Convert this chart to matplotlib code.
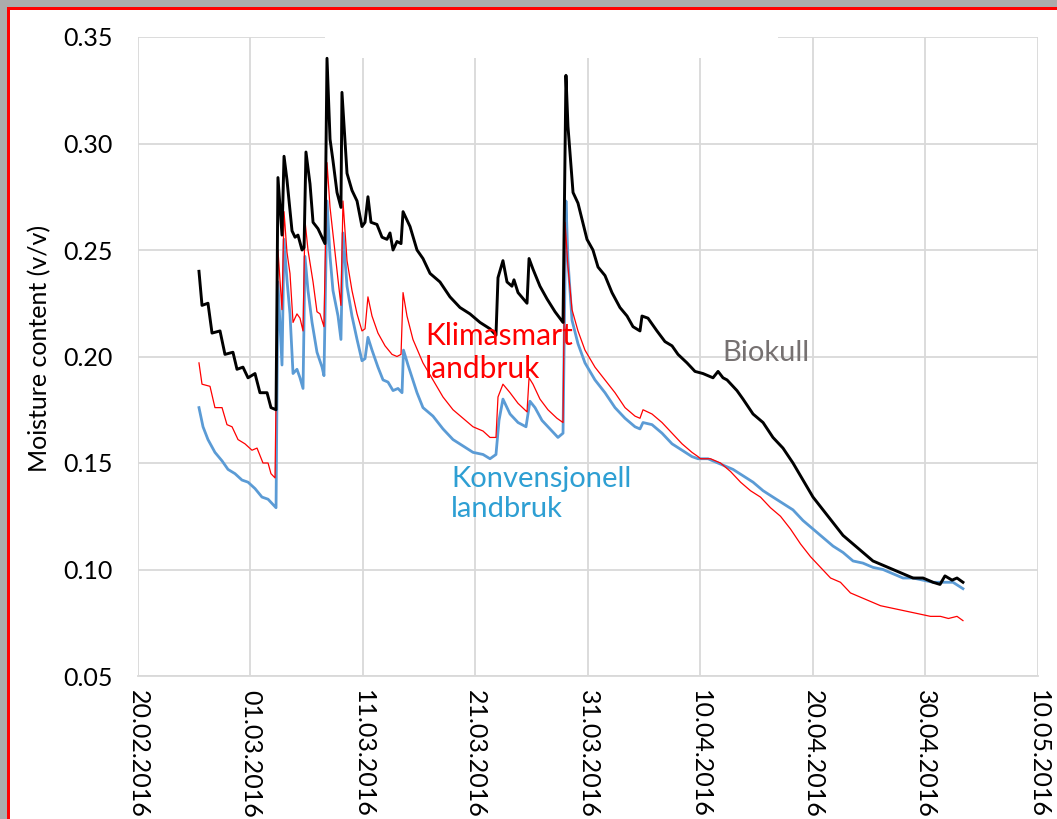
import matplotlib
matplotlib.use("Agg")
import matplotlib.pyplot as plt
import matplotlib.dates as mdates
from matplotlib.patches import Rectangle
import pandas as pd

# ---------------- data (days after 20.02.2016, moisture v/v) ----------------
start_date = "2016-02-20"

biokull_days = [5.42, 5.69, 6.22, 6.58, 7.29, 7.73, 8.44, 8.80, 9.33, 9.78, 10.40, 10.84, 11.47, 11.82, 12.27,
                12.44, 12.80, 12.98, 13.24, 13.69, 13.96, 14.22, 14.58, 14.76, 14.93, 15.29, 15.56, 16.00, 16.44,
                16.62, 16.80, 17.07, 17.33, 17.69, 18.04, 18.13, 18.58, 19.02, 19.47, 19.91, 20.18, 20.44, 20.71,
                21.24, 21.69, 22.13, 22.40, 22.67, 23.02, 23.38, 23.56, 24.00, 24.18, 24.80, 25.33, 25.96, 26.84,
                27.73, 28.62, 29.51, 30.40, 31.29, 31.82, 32.00, 32.44, 32.80, 33.24, 33.42, 33.78, 34.58, 34.76,
                35.11, 35.73, 36.36, 37.07, 37.78, 38.04, 38.22, 38.67, 39.11, 39.91, 40.44, 40.89, 41.51, 42.13,
                42.84, 43.47, 44.00, 44.62, 44.80, 45.33, 46.13, 46.84, 47.47, 48.00, 48.80, 49.51, 50.22, 51.11,
                51.56, 52.00, 52.36, 53.24, 53.78, 54.67, 55.56, 56.44, 57.33, 58.22, 59.11, 60.00, 60.89, 61.78,
                62.67, 63.56, 64.44, 65.33, 66.22, 67.11, 68.00, 68.89, 69.78, 70.67, 71.29, 71.73, 72.36, 72.80,
                73.33]
biokull_vals = [0.240, 0.224, 0.225, 0.211, 0.212, 0.201, 0.202, 0.194, 0.195, 0.190, 0.192, 0.183, 0.183, 0.176, 0.175,
                0.284, 0.257, 0.294, 0.283, 0.259, 0.256, 0.257, 0.250, 0.251, 0.296, 0.281, 0.263, 0.260, 0.255,
                0.253, 0.340, 0.302, 0.292, 0.277, 0.270, 0.324, 0.286, 0.278, 0.273, 0.261, 0.263, 0.275, 0.263,
                0.262, 0.256, 0.255, 0.258, 0.250, 0.254, 0.253, 0.268, 0.263, 0.261, 0.250, 0.246, 0.239, 0.235,
                0.228, 0.223, 0.220, 0.216, 0.213, 0.210, 0.237, 0.245, 0.235, 0.233, 0.236, 0.230, 0.225, 0.246,
                0.241, 0.233, 0.227, 0.221, 0.216, 0.332, 0.308, 0.277, 0.272, 0.255, 0.250, 0.242, 0.238, 0.230,
                0.223, 0.219, 0.214, 0.212, 0.219, 0.218, 0.212, 0.207, 0.205, 0.201, 0.197, 0.193, 0.192, 0.190,
                0.193, 0.190, 0.189, 0.184, 0.180, 0.173, 0.169, 0.162, 0.157, 0.150, 0.142, 0.134, 0.128, 0.122,
                0.116, 0.112, 0.108, 0.104, 0.102, 0.100, 0.098, 0.096, 0.096, 0.094, 0.093, 0.097, 0.095, 0.096,
                0.094]

klima_days = [5.42, 5.69, 6.40, 6.84, 7.47, 7.91, 8.36, 8.89, 9.51, 10.13, 10.58, 11.11, 11.56, 11.82, 12.18,
              12.44, 12.80, 12.98, 13.24, 13.51, 13.78, 14.13, 14.40, 14.67, 14.84, 15.11, 15.56, 15.91, 16.18,
              16.53, 16.80, 17.07, 17.51, 17.78, 18.04, 18.22, 18.58, 19.02, 19.47, 19.91, 20.18, 20.44, 20.80,
              21.33, 21.96, 22.58, 23.02, 23.38, 23.56, 23.91, 24.44, 25.33, 26.22, 27.11, 28.00, 28.89, 29.78,
              30.67, 31.29, 31.82, 32.00, 32.44, 33.07, 33.78, 34.58, 34.76, 35.11, 35.73, 36.44, 37.24, 37.78,
              37.96, 38.22, 38.58, 39.11, 39.73, 40.62, 41.51, 42.40, 43.29, 44.18, 44.62, 44.89, 45.69, 46.58,
              47.47, 48.36, 49.24, 49.78, 50.00, 50.89, 51.78, 52.67, 53.56, 54.44, 55.33, 56.22, 57.11, 58.00,
              58.89, 59.78, 60.67, 61.56, 62.44, 63.33, 64.22, 65.11, 66.00, 66.89, 67.78, 68.67, 69.56, 70.44,
              71.33, 72.04, 72.80, 73.33]
klima_vals = [0.197, 0.187, 0.186, 0.176, 0.176, 0.168, 0.167, 0.161, 0.159, 0.156, 0.157, 0.150, 0.150, 0.145, 0.143,
              0.250, 0.222, 0.268, 0.249, 0.239, 0.216, 0.220, 0.218, 0.212, 0.264, 0.250, 0.235, 0.221, 0.220,
              0.214, 0.291, 0.270, 0.249, 0.236, 0.224, 0.273, 0.245, 0.231, 0.220, 0.212, 0.213, 0.228, 0.219,
              0.211, 0.205, 0.201, 0.200, 0.201, 0.230, 0.219, 0.208, 0.197, 0.189, 0.181, 0.175, 0.171, 0.167,
              0.165, 0.162, 0.162, 0.181, 0.187, 0.183, 0.178, 0.174, 0.190, 0.187, 0.180, 0.175, 0.171, 0.169,
              0.263, 0.242, 0.222, 0.212, 0.203, 0.195, 0.189, 0.183, 0.176, 0.172, 0.171, 0.175, 0.173, 0.169,
              0.164, 0.159, 0.155, 0.153, 0.152, 0.152, 0.150, 0.146, 0.141, 0.137, 0.134, 0.129, 0.125, 0.119,
              0.112, 0.106, 0.101, 0.096, 0.094, 0.089, 0.087, 0.085, 0.083, 0.082, 0.081, 0.080, 0.079, 0.078,
              0.078, 0.077, 0.078, 0.076]

konv_days = [5.42, 5.78, 6.22, 6.84, 7.47, 8.00, 8.62, 9.24, 9.78, 10.40, 11.02, 11.56, 12.27,
             12.44, 12.80, 12.98, 13.24, 13.51, 13.78, 14.13, 14.40, 14.67, 14.84, 15.11, 15.47, 15.91, 16.36,
             16.53, 16.80, 17.07, 17.33, 17.78, 18.04, 18.22, 18.58, 19.02, 19.47, 19.91, 20.18, 20.44, 20.80,
             21.33, 21.78, 22.22, 22.67, 23.11, 23.47, 23.60, 24.00, 24.80, 25.33, 26.22, 27.11, 28.00, 28.89,
             29.78, 30.67, 31.29, 31.82, 32.09, 32.44, 33.07, 33.78, 34.49, 34.84, 35.29, 35.91, 36.62, 37.33,
             37.78, 38.04, 38.22, 38.58, 39.11, 39.73, 40.62, 41.51, 42.40, 43.29, 44.18, 44.62, 44.89, 45.69,
             46.58, 47.47, 48.36, 49.24, 49.78, 50.67, 51.11, 52.00, 52.89, 53.78, 54.67, 55.56, 56.44, 57.33,
             58.22, 59.11, 60.00, 60.89, 61.78, 62.67, 63.56, 64.44, 65.33, 66.22, 67.11, 68.00, 68.89, 69.78,
             70.67, 71.56, 72.44, 73.33]
konv_vals = [0.176, 0.167, 0.161, 0.155, 0.151, 0.147, 0.145, 0.142, 0.141, 0.138, 0.134, 0.133, 0.129,
             0.235, 0.196, 0.255, 0.236, 0.220, 0.192, 0.194, 0.190, 0.185, 0.247, 0.231, 0.216, 0.202, 0.195,
             0.191, 0.273, 0.247, 0.231, 0.219, 0.208, 0.258, 0.233, 0.219, 0.208, 0.198, 0.199, 0.209, 0.203,
             0.195, 0.189, 0.188, 0.184, 0.185, 0.183, 0.203, 0.196, 0.183, 0.176, 0.172, 0.166, 0.161, 0.158,
             0.155, 0.154, 0.152, 0.154, 0.170, 0.180, 0.173, 0.169, 0.167, 0.179, 0.176, 0.170, 0.166, 0.162,
             0.164, 0.273, 0.245, 0.217, 0.206, 0.197, 0.189, 0.183, 0.176, 0.171, 0.167, 0.166, 0.169, 0.168,
             0.164, 0.159, 0.156, 0.153, 0.152, 0.152, 0.151, 0.149, 0.147, 0.144, 0.141, 0.137, 0.134, 0.131,
             0.128, 0.123, 0.119, 0.115, 0.111, 0.108, 0.104, 0.103, 0.101, 0.100, 0.098, 0.096, 0.096, 0.095,
             0.094, 0.094, 0.094, 0.091]

x_tick_dates = ["2016-02-20", "2016-03-01", "2016-03-11", "2016-03-21", "2016-03-31",
                "2016-04-10", "2016-04-20", "2016-04-30", "2016-05-10"]
y_ticks = [0.05, 0.10, 0.15, 0.20, 0.25, 0.30, 0.35]
y_label = "Moisture content (v/v)"
label_biokull = "Biokull"
label_klima = "Klimasmart\nlandbruk"
label_konv = "Konvensjonell\nlandbruk"

# ---------------- helpers ----------------
t0 = pd.Timestamp(start_date)
def to_dates(days):
    return t0 + pd.to_timedelta(days, unit="D")

W, H = 1057, 819
fig = plt.figure(figsize=(W / 100, H / 100), dpi=100)
fig.patch.set_facecolor("white")

# screenshot frame: grey band and red border on top/left
fig.patches.append(Rectangle((0, 1 - 7 / H), 1, 7 / H, transform=fig.transFigure,
                             facecolor="#ABABAB", edgecolor="none", zorder=0))
fig.patches.append(Rectangle((0, 0), 7 / W, 1, transform=fig.transFigure,
                             facecolor="#ABABAB", edgecolor="none", zorder=0))
fig.patches.append(Rectangle((7 / W, 1 - 9.5 / H), 1, 2.5 / H, transform=fig.transFigure,
                             facecolor="#FF0000", edgecolor="none", zorder=1))
fig.patches.append(Rectangle((7 / W, 0), 2.5 / W, 1 - 7 / H, transform=fig.transFigure,
                             facecolor="#FF0000", edgecolor="none", zorder=1))

left, right, top, bottom = 138, 1038, 37, 676
ax = fig.add_axes([left / W, 1 - bottom / H, (right - left) / W, (bottom - top) / H])
ax.set_facecolor("none")

font = "Lato"
ax.plot(to_dates(konv_days), konv_vals, color="#5B9BD5", lw=2.0, solid_joinstyle="round", zorder=3)
ax.plot(to_dates(klima_days), klima_vals, color="#FF0000", lw=0.9, solid_joinstyle="round", zorder=4)
ax.plot(to_dates(biokull_days), biokull_vals, color="#000000", lw=2.1, solid_joinstyle="round", zorder=5)

ax.set_xlim(pd.Timestamp(x_tick_dates[0]), pd.Timestamp(x_tick_dates[-1]))
ax.set_ylim(y_ticks[0], y_ticks[-1])
ax.set_xticks([pd.Timestamp(d) for d in x_tick_dates])
ax.xaxis.set_major_formatter(mdates.DateFormatter("%d.%m.%Y"))
ax.set_yticks(y_ticks)
ax.set_yticklabels([f"{v:.2f}" for v in y_ticks])

ax.grid(True, color="#D9D9D9", lw=1.3, zorder=0)
ax.set_axisbelow(True)
for s in ["top", "right", "left"]:
    ax.spines[s].set_visible(False)
ax.spines["bottom"].set_color("#D9D9D9")
ax.spines["bottom"].set_linewidth(1.3)

ax.tick_params(axis="both", length=0, labelsize=18, colors="#000000")
ax.tick_params(axis="y", pad=18)
ax.tick_params(axis="x", pad=10)
for lab in ax.get_xticklabels():
    lab.set_rotation(-90)
    lab.set_ha("center")
    lab.set_va("top")
    lab.set_fontfamily(font)
for lab in ax.get_yticklabels():
    lab.set_fontfamily(font)

ax.set_ylabel(y_label, fontsize=18, family=font, va="center")
ax.yaxis.set_label_coords(-0.109, 0.512)

# white patch that hides part of the top of the grid (as in the source image)
ax.add_patch(Rectangle(((325 - left) / (right - left), 1 - 21 / (bottom - top)),
                       (778 - 325) / (right - left), 22 / (bottom - top),
                       transform=ax.transAxes, facecolor="white", edgecolor="none",
                       zorder=1, clip_on=False))

ax.text((425 - left) / (right - left), (bottom - 322) / (bottom - top), label_klima,
        transform=ax.transAxes, color="#FF0000", fontsize=21.5, family=font,
        ha="left", va="top", linespacing=1.2, zorder=6)
ax.text((722 - left) / (right - left), (bottom - 340) / (bottom - top), label_biokull,
        transform=ax.transAxes, color="#767171", fontsize=21, family=font,
        ha="left", va="top", zorder=6)
ax.text((451 - left) / (right - left), (bottom - 466) / (bottom - top), label_konv,
        transform=ax.transAxes, color="#2E9FD3", fontsize=21, family=font,
        ha="left", va="top", linespacing=1.2, zorder=6)

fig.savefig("out.png", dpi=100)
